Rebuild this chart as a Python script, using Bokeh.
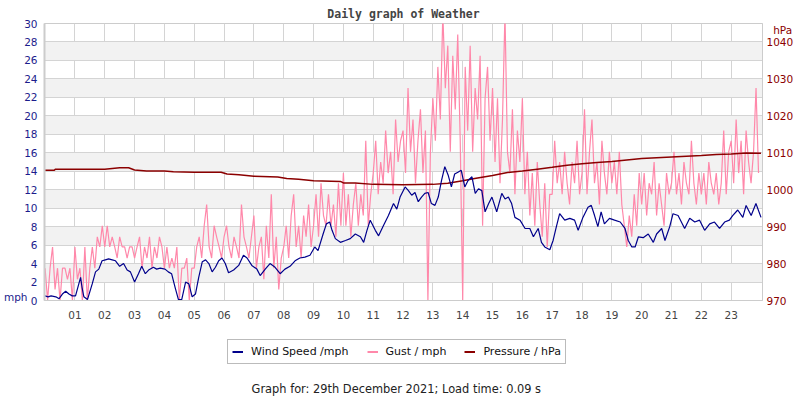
import numpy as np
from bokeh.plotting import figure
from bokeh.layouts import column
from bokeh.models import Range1d, LinearAxis, FixedTicker, Label, Legend, LegendItem
from bokeh.embed import file_html
from bokeh.resources import INLINE

# ---------------- data ----------------
hour_ticks = list(range(1, 24))
hour_labels = ["%02d" % h for h in hour_ticks]
mph_ticks = list(range(0, 31, 2))
hpa_ticks = [970, 980, 990, 1000, 1010, 1020, 1030, 1040]

wind_hours = [0.0, 0.1, 0.2, 0.36, 0.47, 0.58, 0.69, 0.8, 0.91, 1.02, 1.13, 1.19, 1.24, 1.3, 1.42, 1.58, 1.69, 1.8, 1.91,
              2.02, 2.13, 2.25, 2.36, 2.5, 2.63, 2.75, 2.86, 3.0, 3.13, 3.24, 3.36, 3.47, 3.63, 3.74, 3.86, 4.02, 4.13,
              4.24, 4.36, 4.47, 4.58, 4.71, 4.82, 4.93, 5.04, 5.15, 5.27, 5.38, 5.49, 5.6, 5.71, 5.82, 5.93, 6.04, 6.15,
              6.32, 6.49, 6.65, 6.77, 6.93, 7.1, 7.21, 7.38, 7.54, 7.71, 7.88, 8.04, 8.21, 8.38, 8.54, 8.71, 8.88, 9.04,
              9.15, 9.32, 9.43, 9.54, 9.62, 9.73, 9.9, 10.07, 10.23, 10.4, 10.57, 10.68, 10.79, 10.9, 11.07, 11.18,
              11.34, 11.51, 11.68, 11.79, 11.9, 12.07, 12.18, 12.29, 12.4, 12.51, 12.62, 12.73, 12.84, 12.95, 13.07,
              13.18, 13.29, 13.4, 13.51, 13.62, 13.73, 13.84, 13.95, 14.07, 14.18, 14.31, 14.42, 14.53, 14.64, 14.75,
              14.87, 14.98, 15.14, 15.31, 15.42, 15.53, 15.64, 15.75, 15.92, 16.09, 16.25, 16.37, 16.53, 16.64, 16.75,
              16.92, 17.03, 17.14, 17.25, 17.42, 17.59, 17.75, 17.87, 18.03, 18.2, 18.31, 18.42, 18.53, 18.64, 18.75,
              18.92, 19.09, 19.28, 19.44, 19.55, 19.67, 19.78, 19.89, 20.05, 20.22, 20.39, 20.5, 20.67, 20.78, 20.94,
              21.05, 21.22, 21.33, 21.44, 21.61, 21.78, 21.94, 22.11, 22.28, 22.44, 22.61, 22.78, 22.94, 23.05, 23.22,
              23.39, 23.5, 23.67, 23.83, 24.0]
wind_mph = [0.5, 0.4, 0.5, 0.4, 0.2, 0.7, 1.0, 0.7, 0.5, 0.5, 1.8, 2.5, 1.4, 0.4, 0.1, 1.8, 3.1, 3.4, 4.3,
            4.4, 4.5, 4.4, 4.3, 3.7, 4.0, 3.3, 3.1, 2.0, 2.9, 3.7, 2.9, 3.3, 3.6, 3.4, 3.5, 3.4, 3.1,
            2.9, 1.4, 0.1, 0.1, 2.0, 1.8, 0.4, 0.7, 2.5, 4.2, 4.4, 4.0, 3.1, 3.6, 4.3, 4.6, 4.0, 3.0,
            3.3, 3.8, 4.9, 4.6, 3.8, 3.4, 2.7, 3.4, 4.0, 3.6, 2.9, 3.4, 3.7, 4.3, 4.6, 4.7, 4.9, 5.8,
            5.4, 7.2, 8.3, 8.5, 7.6, 6.7, 6.3, 6.5, 6.7, 7.2, 6.9, 6.3, 7.6, 8.7, 7.6, 7.0,
            8.1, 9.2, 10.5, 9.9, 11.2, 12.3, 11.9, 11.4, 11.7, 10.7, 11.2, 11.6, 11.7, 10.5, 10.3,
            11.2, 13.0, 14.5, 13.6, 12.3, 13.7, 13.9, 14.1, 12.3, 13.0, 13.4, 11.6, 12.1, 11.9, 9.6,
            10.5, 11.2, 9.6, 11.6, 11.0, 11.2, 10.5, 9.0, 8.7, 7.8, 7.8, 6.9, 7.8, 6.3, 5.8,
            5.5, 6.5, 8.0, 9.4, 8.7, 8.9, 8.7, 7.6, 9.0, 10.1, 10.3, 9.2, 8.0, 9.6, 8.3,
            8.9, 8.7, 8.5, 7.8, 6.5, 5.8, 5.8, 6.9, 6.8, 7.2, 6.3, 7.2, 7.8, 6.5, 8.0,
            9.4, 9.2, 8.5, 7.8, 8.9, 8.5, 8.7, 7.6, 8.3, 8.5, 7.8, 8.5, 8.7, 9.2, 9.8,
            9.0, 10.3, 9.2, 10.5, 9.0]

# gust, one value every 5 minutes (12 per hour)
gust_mph = [
    3.5, 0, 3.5, 5.8, 1.2, 3.5, 0, 3.5, 3.5, 2.3, 3.5, 0,
    5.8, 2.3, 3.5, 0, 5.8, 0, 3.5, 5.8, 3.5, 6.9, 5.8, 8.1,
    5.8, 8.1, 5.8, 6.9, 5.8, 4.6, 6.9, 5.8, 5.8, 4.6, 5.8, 5.8,
    4.6, 5.8, 6.9, 3.5, 5.8, 4.6, 6.9, 3.5, 5.8, 4.6, 6.9, 5.8,
    3.5, 5.8, 3.5, 4.6, 3.5, 5.8, 0, 3.5, 3.5, 4.6, 0, 3.5,
    3.5, 5.8, 6.9, 4.6, 8.1, 10.4, 5.8, 4.6, 8.1, 6.9, 5.8, 4.6,
    6.9, 8.1, 5.8, 4.6, 6.9, 5.8, 4.6, 10.4, 6.9, 5.8, 4.6, 6.9,
    9.2, 3.5, 5.8, 6.9, 2.3, 8.1, 4.6, 11.5, 3.5, 6.9, 1.2, 4.6,
    5.8, 8.1, 4.6, 9.2, 11.5, 5.8, 8.1, 4.6, 9.2, 6.9, 10.4, 5.8,
    8.1, 11.5, 6.9, 12.7, 9.2, 8.1, 11.5, 8.1, 10.4, 6.9, 12.7, 8.1,
    13.8, 8.1, 11.5, 6.9, 10.4, 12.7, 8.1, 11.5, 9.2, 17.3, 8.1, 11.5,
    13.8, 17.3, 11.5, 15.0, 12.7, 18.4, 13.8, 16.1, 11.5, 19.6, 15.0, 17.3,
    18.4, 13.8, 23.0, 16.1, 19.6, 12.7, 17.3, 20.7, 13.8, 18.4, 0, 16.1,
    21.9, 17.3, 25.3, 19.6, 31.1, 23.0, 27.6, 16.1, 26.5, 20.7, 28.8, 17.3,
    0, 25.3, 18.4, 27.6, 16.1, 23.0, 19.6, 26.5, 8.1, 21.9, 25.3, 17.3,
    23.0, 15.0, 21.9, 12.7, 19.6, 31.1, 16.1, 13.8, 20.7, 11.5, 18.4, 15.0,
    21.9, 11.5, 16.1, 9.2, 13.8, 8.1, 15.0, 10.4, 6.9, 12.7, 5.8, 11.5,
    11.5, 17.3, 12.7, 15.0, 11.5, 16.1, 12.7, 10.4, 15.0, 12.7, 17.3, 11.5,
    13.8, 20.7, 11.5, 16.1, 19.6, 12.7, 15.0, 10.4, 17.3, 13.8, 11.5, 16.1,
    12.7, 15.0, 11.5, 16.1, 10.4, 8.1, 5.8, 9.2, 6.9, 11.5, 8.1, 13.8,
    10.4, 13.8, 9.2, 12.7, 11.5, 15.0, 9.2, 12.7, 10.4, 8.1, 13.8, 11.5,
    12.7, 16.1, 11.5, 13.8, 10.4, 15.0, 12.7, 11.5, 17.3, 12.7, 10.4, 13.8,
    11.5, 13.8, 10.4, 15.0, 12.7, 11.5, 13.8, 10.4, 12.7, 18.4, 11.5, 16.1,
    17.3, 12.7, 19.6, 13.8, 17.3, 11.5, 18.4, 15.0, 12.7, 16.1, 23.0, 13.8,
]
gust_hours = np.arange(len(gust_mph)) / 12.0

pressure_hours = [0.0, 0.3, 0.35, 1.0, 1.6, 2.0, 2.5, 2.8, 3.0, 3.4, 4.0, 4.3, 5.0, 5.9, 6.1, 6.5, 7.0, 7.8,
                  8.1, 8.5, 9.0, 9.9, 10.0, 10.4, 11.0, 12.0, 13.0, 13.5, 14.0, 14.4, 15.0, 15.5, 16.0, 16.5,
                  17.0, 17.5, 18.0, 18.5, 19.0, 19.5, 20.0, 20.5, 21.0, 21.5, 22.0, 22.5, 23.0, 23.5, 24.0]
pressure_hpa = [1005.2, 1005.2, 1005.5, 1005.5, 1005.5, 1005.5, 1005.9, 1005.9, 1005.3, 1005.0, 1005.0, 1004.8,
                1004.7, 1004.7, 1004.2, 1004.0, 1003.6, 1003.4, 1003.0, 1002.8, 1002.4, 1002.2, 1001.8, 1001.8,
                1001.4, 1001.3, 1001.4, 1001.7, 1002.4, 1003.0, 1003.8, 1004.6, 1005.0, 1005.5, 1006.0, 1006.6,
                1007.0, 1007.3, 1007.6, 1008.0, 1008.4, 1008.6, 1008.8, 1009.0, 1009.2, 1009.5, 1009.6, 1009.9,
                1009.8]

series_labels = ["Wind Speed /mph", "Gust / mph", "Pressure / hPa"]
footer_text = "Graph for: 29th December 2021; Load time: 0.09 s"

# unit captions carried by the axes (placed at a tick position)
mph_caption_at = 0.43
hpa_caption_at = 1043.2

WIND_C = "#00008b"
GUST_C = "#ff88aa"
PRES_C = "#8b0000"
LEFT_C = "#1c1c8c"
FONT = "DejaVu Sans"
NB = "\u00a0"

# ---------------- main chart ----------------
p = figure(width=800, height=330, output_backend="svg", toolbar_location=None,
           x_range=Range1d(-0.02, 24.05), y_range=Range1d(0, 30),
           min_border_left=40, min_border_right=38, min_border_top=23, min_border_bottom=30,
           background_fill_color="white", border_fill_color="white")
p.outline_line_color = "#cccccc"
p.extra_y_ranges = {"hpa": Range1d(970, 1044.9)}

p.title.text = "Daily graph of Weather"
p.title.align = "center"
p.title.text_font = "DejaVu Sans Mono"
p.title.text_font_style = "bold"
p.title.text_font_size = "11.5px"
p.title.text_color = "#444444"
p.title.standoff = 5

p.xgrid.ticker = FixedTicker(ticks=hour_ticks)
p.ygrid.ticker = FixedTicker(ticks=mph_ticks)
p.xgrid.grid_line_color = "#d4d4d4"
p.ygrid.grid_line_color = "#d4d4d4"
p.ygrid.band_fill_color = "#f2f2f2"
p.ygrid.band_fill_alpha = 1.0

p.xaxis.ticker = FixedTicker(ticks=hour_ticks)
p.xaxis.major_label_overrides = {t: l for t, l in zip(hour_ticks, hour_labels)}
p.xaxis.axis_line_color = "#cccccc"
p.xaxis.major_tick_line_color = None
p.xaxis.minor_tick_line_color = None
p.xaxis.major_tick_out = 0
p.xaxis.major_tick_in = 0
p.xaxis.major_label_standoff = 10
p.xaxis.major_label_text_color = "#444444"
p.xaxis.major_label_text_font = FONT
p.xaxis.major_label_text_font_size = "10.5px"

p.yaxis.ticker = FixedTicker(ticks=mph_ticks + [mph_caption_at])
p.yaxis.major_label_overrides = {mph_caption_at: "mph" + NB * 3}
p.yaxis.axis_line_color = "#cccccc"
p.yaxis.axis_line_width = 2
p.yaxis.major_tick_line_color = None
p.yaxis.minor_tick_line_color = None
p.yaxis.major_tick_out = 0
p.yaxis.major_tick_in = 0
p.yaxis.major_label_standoff = 7
p.yaxis.major_label_text_color = LEFT_C
p.yaxis.major_label_text_font = FONT
p.yaxis.major_label_text_font_size = "10.5px"

ax_r = LinearAxis(y_range_name="hpa", ticker=FixedTicker(ticks=hpa_ticks + [hpa_caption_at]))
ax_r.major_label_overrides = {hpa_caption_at: NB * 2 + "hPa"}
ax_r.axis_line_color = "#cccccc"
ax_r.major_tick_line_color = None
ax_r.minor_tick_line_color = None
ax_r.major_tick_out = 0
ax_r.major_tick_in = 0
ax_r.major_label_standoff = 4
ax_r.major_label_text_color = PRES_C
ax_r.major_label_text_font = FONT
ax_r.major_label_text_font_size = "10.5px"
p.add_layout(ax_r, "right")

p.line(gust_hours, gust_mph, line_color=GUST_C, line_width=1.2)
p.line(pressure_hours, pressure_hpa, line_color=PRES_C, line_width=1.5, y_range_name="hpa")
p.line(wind_hours, wind_mph, line_color=WIND_C, line_width=1.2)

# ---------------- legend + footer strip ----------------
q = figure(width=800, height=70, output_backend="svg", toolbar_location=None,
           x_range=Range1d(0, 800), y_range=Range1d(0, 70),
           x_axis_type=None, y_axis_type=None,
           min_border_left=0, min_border_right=0, min_border_top=0, min_border_bottom=0,
           background_fill_color="white", border_fill_color="white")
q.outline_line_color = None
q.grid.visible = False
q.extra_y_ranges = {"off": Range1d(5000, 6000)}   # keeps the swatch renderers out of sight
r_w = q.line(wind_hours, wind_mph, line_color=WIND_C, line_width=2, y_range_name="off")
r_g = q.line(gust_hours, gust_mph, line_color=GUST_C, line_width=2, y_range_name="off")
r_p = q.line(pressure_hours, pressure_hpa, line_color=PRES_C, line_width=2, y_range_name="off")

legend = Legend(items=[LegendItem(label=series_labels[0], renderers=[r_w]),
                       LegendItem(label=series_labels[1], renderers=[r_g]),
                       LegendItem(label=series_labels[2], renderers=[r_p])],
                location=(183, 36), orientation="horizontal",
                label_text_font=FONT, label_text_font_size="11px", label_text_color="#111111",
                label_height=15, glyph_height=15, glyph_width=11, label_standoff=8,
                spacing=18, padding=4, margin=0,
                border_line_color="#777777", border_line_width=1,
                background_fill_color="white", background_fill_alpha=1.0)
q.add_layout(legend)
q.add_layout(Label(x=392, y=12, text=footer_text, text_align="center", text_baseline="middle",
                   text_font=FONT, text_font_size="11.4px", text_color="#222222"))

layout = column(p, q, spacing=0)
open("out.html", "w").write(file_html(layout, INLINE))
